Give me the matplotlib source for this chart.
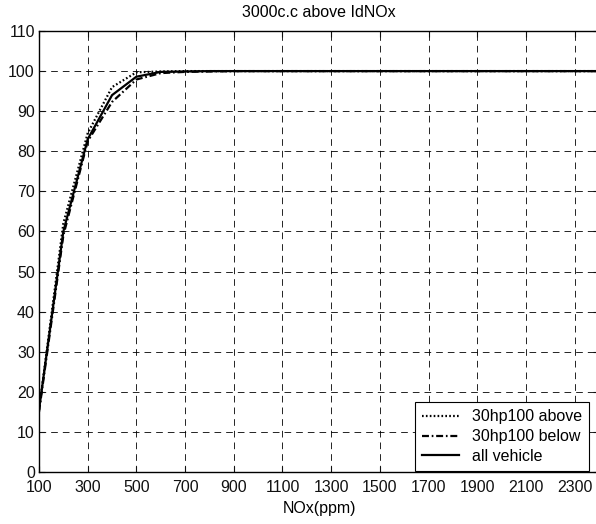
#!/usr/bin/env python3
"""Cumulative NOx distribution, 3000c.c above vehicles."""

import matplotlib

matplotlib.use("Agg")

from matplotlib import pyplot as plt

# data
nox_ppm = [100, 200, 300, 400, 500, 600, 700, 800, 900, 1000, 1500, 2000, 2400]
above_30hp100 = [15.5, 62.0, 84.5, 96.0, 99.7, 99.9, 100, 100, 100, 100, 100, 100, 100]
below_30hp100 = [15.0, 59.0, 82.5, 92.3, 97.9, 99.5, 99.8, 99.9, 100, 100, 100, 100, 100]
all_vehicle = [15.5, 60.0, 83.0, 94.0, 98.6, 99.8, 99.9, 100, 100, 100, 100, 100, 100]

x_ticks = list(range(100, 2400, 200))
y_ticks = list(range(0, 111, 10))

plt.rcParams["font.family"] = ["Liberation Sans", "DejaVu Sans"]
plt.rcParams["lines.scale_dashes"] = False

fig = plt.figure(figsize=(5.96, 5.24), dpi=100)
ax = fig.add_axes([39 / 596, 52 / 524, 560 / 596, 441 / 524])

ax.plot(nox_ppm, above_30hp100, color="black", linewidth=1.6, linestyle=(0, (1.2, 1.6)),
        label="30hp100 above")
ax.plot(nox_ppm, below_30hp100, color="black", linewidth=1.6, linestyle=(0, (5, 2, 1.2, 2)),
        label="30hp100 below")
ax.plot(nox_ppm, all_vehicle, color="black", linewidth=1.6, label="all vehicle")

ax.set_xlim(100, 2400)
ax.set_ylim(0, 110)
ax.set_xticks(x_ticks)
ax.set_yticks(y_ticks)
ax.grid(True, color="black", linewidth=0.6, linestyle=(0, (4.8, 3.6)))
ax.set_axisbelow(True)
ax.tick_params(direction="in", length=4, width=0.8, top=True, right=True,
               labelsize=11.5, colors="#111111")
ax.tick_params(axis="x", pad=6)
ax.tick_params(axis="y", pad=3)
for spine in ax.spines.values():
    spine.set_linewidth(1.0)
    spine.set_color("black")

ax.set_title("3000c.c above IdNOx", fontsize=11.5, pad=10)
ax.set_xlabel("NOx(ppm)", fontsize=11.5, labelpad=4)

legend = ax.legend(loc="lower right", bbox_to_anchor=(0.982, 0.002), borderaxespad=0,
                   fontsize=11.5, fancybox=False, framealpha=1, edgecolor="black",
                   handlelength=2.3, handletextpad=0.8, labelspacing=0.3, borderpad=0.45)
legend.get_frame().set_linewidth(0.8)

fig.savefig("out.png", dpi=100, facecolor="white")
